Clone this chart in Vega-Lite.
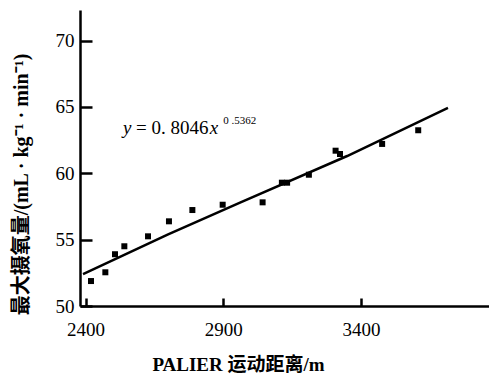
{
  "$schema": "https://vega.github.io/schema/vega-lite/v6.json",
  "autosize": "none",
  "width": 409,
  "height": 296,
  "padding": {"left": 80, "top": 10, "right": 0, "bottom": 77},
  "background": "white",
  "config": {
    "view": {"stroke": null},
    "axis": {"grid": false, "domainColor": "black", "tickColor": "black", "labelColor": "black", "titleColor": "black", "labelFont": "Liberation Serif", "labelFontSize": 19, "domainWidth": 2.5, "tickWidth": 2.5}
  },
  "datasets": {
    "points": [
      {"distance": 2420, "vo2max": 51.88},
      {"distance": 2472, "vo2max": 52.54},
      {"distance": 2507, "vo2max": 53.90},
      {"distance": 2541, "vo2max": 54.50},
      {"distance": 2627, "vo2max": 55.25},
      {"distance": 2703, "vo2max": 56.38},
      {"distance": 2788, "vo2max": 57.23},
      {"distance": 2898, "vo2max": 57.63},
      {"distance": 3043, "vo2max": 57.81},
      {"distance": 3113, "vo2max": 59.29},
      {"distance": 3132, "vo2max": 59.29},
      {"distance": 3211, "vo2max": 59.89},
      {"distance": 3308, "vo2max": 61.70},
      {"distance": 3324, "vo2max": 61.45},
      {"distance": 3477, "vo2max": 62.21},
      {"distance": 3608, "vo2max": 63.24}
    ],
    "fit": [
      {"distance": 2391, "vo2max": 52.41},
      {"distance": 2700, "vo2max": 55.40},
      {"distance": 2961, "vo2max": 57.79},
      {"distance": 3350, "vo2max": 61.30},
      {"distance": 3716, "vo2max": 64.92}
    ]
  },
  "layer": [
    {
      "data": {"name": "fit"},
      "mark": {"type": "line", "color": "black", "strokeWidth": 2.5},
      "encoding": {
        "x": {"field": "distance", "type": "quantitative", "scale": {"domain": [2380, 3865], "nice": false, "zero": false},
          "axis": {"values": [2400, 2900, 3400], "format": "d", "tickSize": -8, "labelPadding": 22, "labelBaseline": "top",
            "title": "PALIER 运动距离/m", "titleFont": "Liberation Serif, Noto Sans CJK SC", "titleFontSize": 19, "titleFontWeight": "bold",
            "titleX": 158, "titleY": 64, "titleBaseline": "alphabetic"}},
        "y": {"field": "vo2max", "type": "quantitative", "scale": {"domain": [50, 72.3], "nice": false, "zero": false},
          "axis": {"values": [50, 55, 60, 65, 70], "format": "d", "tickSize": -12, "labelPadding": 18, "labelBaseline": "middle",
            "title": "最大摄氧量/(mL · kg⁻¹ · min⁻¹)", "titleFont": "Liberation Serif, Noto Sans CJK SC", "titleFontSize": 20, "titleFontWeight": "bold",
            "titleX": -59, "titleY": 174, "titleBaseline": "middle", "titleAlign": "center", "titleAngle": -90}}
      }
    },
    {
      "data": {"name": "points"},
      "mark": {"type": "square", "color": "black", "filled": true, "opacity": 1, "size": 36},
      "encoding": {
        "x": {"field": "distance", "type": "quantitative"},
        "y": {"field": "vo2max", "type": "quantitative"}
      }
    },
    {
      "data": {"values": [{"distance": 2536, "vo2max": 62.96, "label": "y"}]},
      "mark": {"type": "text", "font": "Liberation Serif", "fontSize": 19, "fontStyle": "italic", "align": "left", "baseline": "alphabetic", "color": "black"},
      "encoding": {"x": {"field": "distance", "type": "quantitative"}, "y": {"field": "vo2max", "type": "quantitative"}, "text": {"field": "label"}}
    },
    {
      "data": {"values": [{"distance": 2583, "vo2max": 62.96, "label": "= 0. 8046"}]},
      "mark": {"type": "text", "font": "Liberation Serif", "fontSize": 19, "align": "left", "baseline": "alphabetic", "color": "black"},
      "encoding": {"x": {"field": "distance", "type": "quantitative"}, "y": {"field": "vo2max", "type": "quantitative"}, "text": {"field": "label"}}
    },
    {
      "data": {"values": [{"distance": 2851, "vo2max": 62.96, "label": "x"}]},
      "mark": {"type": "text", "font": "Liberation Serif", "fontSize": 19, "fontStyle": "italic", "align": "left", "baseline": "alphabetic", "color": "black"},
      "encoding": {"x": {"field": "distance", "type": "quantitative"}, "y": {"field": "vo2max", "type": "quantitative"}, "text": {"field": "label"}}
    },
    {
      "data": {"values": [{"distance": 2900, "vo2max": 63.72, "label": "0 .5362"}]},
      "mark": {"type": "text", "font": "Liberation Serif", "fontSize": 11, "align": "left", "baseline": "alphabetic", "color": "black"},
      "encoding": {"x": {"field": "distance", "type": "quantitative"}, "y": {"field": "vo2max", "type": "quantitative"}, "text": {"field": "label"}}
    }
  ]
}
